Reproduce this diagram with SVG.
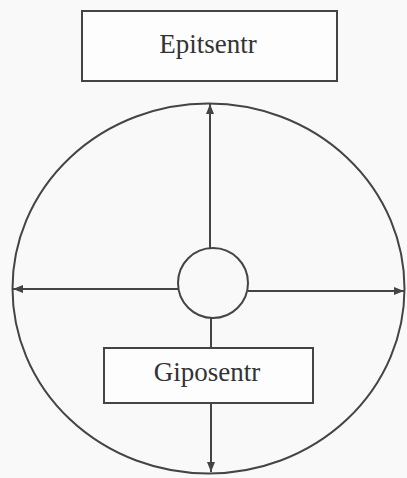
<svg xmlns="http://www.w3.org/2000/svg" width="407" height="478" viewBox="0 0 407 478">
<defs>
<marker id="arr" viewBox="0 0 10 8" refX="10" refY="4" markerWidth="10" markerHeight="8" markerUnits="userSpaceOnUse" orient="auto">
<path d="M0,0 L10,4 L0,8 Z" fill="#444"/>
</marker>
</defs>
<style>
.ln{stroke:#444;stroke-width:2;fill:none}
.box{fill:#fdfdfd;stroke:#444;stroke-width:2}
.lbl{font-family:"Liberation Serif","Times New Roman",serif;font-size:27px;fill:#333;text-anchor:middle}
</style>
<rect width="407" height="478" fill="#f9f9f9"/>
<g id="outer-circle">
<ellipse cx="208.5" cy="288.5" rx="196" ry="185" class="ln"/>
</g>
<g id="connectors">
<line x1="210" y1="248" x2="210" y2="104" class="ln" marker-end="url(#arr)"/>
<line x1="211" y1="318" x2="211" y2="472" class="ln" marker-end="url(#arr)"/>
<line x1="178" y1="289" x2="13" y2="289" class="ln" marker-end="url(#arr)"/>
<line x1="248" y1="291" x2="404" y2="291" class="ln" marker-end="url(#arr)"/>
</g>
<g id="center">
<circle cx="213" cy="283" r="35" class="ln" fill="#fbfbfb"/>
</g>
<g id="epitsentr">
<rect x="82" y="11" width="255" height="70" class="box"/>
<text x="208" y="53" class="lbl">Epitsentr</text>
</g>
<g id="giposentr">
<rect x="104" y="348" width="209" height="55" class="box"/>
<text x="207" y="381" class="lbl">Giposentr</text>
</g>
</svg>
